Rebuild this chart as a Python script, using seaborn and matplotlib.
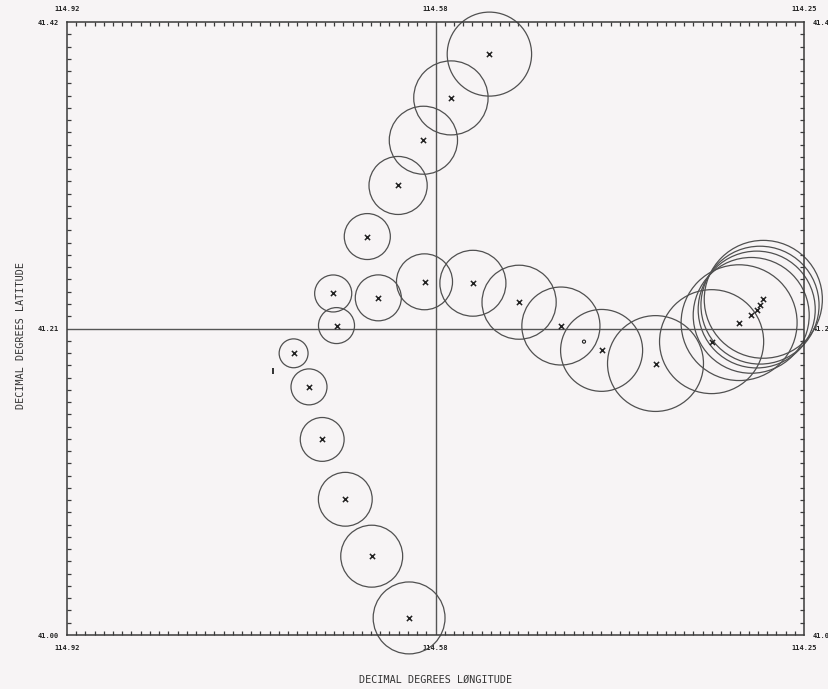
import numpy as np
import pandas as pd
import matplotlib
matplotlib.use("Agg")
import matplotlib.pyplot as plt
from matplotlib.patches import Ellipse
from matplotlib.ticker import FixedLocator
import seaborn as sns

# Epicentre track: position (decimal degrees) and location uncertainty radius (km)
lons = [114.609, 114.643, 114.667, 114.688, 114.700, 114.714, 114.733,
        114.675, 114.678, 114.647, 114.619, 114.596, 114.571, 114.536,
        114.637, 114.595, 114.551, 114.509, 114.471, 114.434, 114.450,
        114.385, 114.334, 114.309, 114.298, 114.293, 114.290, 114.287]
lats = [41.0117, 41.054, 41.093, 41.134, 41.170, 41.193, 41.181,
        41.212, 41.234, 41.273, 41.308, 41.339, 41.368, 41.398,
        41.231, 41.242, 41.241, 41.228, 41.2117, 41.195, 41.201,
        41.186, 41.201, 41.214, 41.219, 41.223, 41.226, 41.230]
radius_km = [2.74, 2.36, 2.05, 1.67, 1.37, 1.10, 0.0,
             1.37, 1.41, 1.75, 2.21, 2.59, 2.82, 3.20,
             1.75, 2.13, 2.51, 2.82, 2.97, 3.12, 0.0,
             3.65, 3.96, 4.41, 4.41, 4.45, 4.49, 4.49]
symbols = ["x", "x", "x", "x", "x", "x", "I",
           "x", "x", "x", "x", "x", "x", "x",
           "x", "x", "x", "x", "x", "x", "o",
           "x", "x", "x", "x", "x", "x", "x"]

lon_west, lon_east = 114.92, 114.25
lat_south, lat_north = 41.00, 41.42
lon_ticks = [114.92, 114.585, 114.25]
lon_labels = ["114.92", "114.58", "114.25"]
lat_ticks = [41.00, 41.21, 41.42]
lat_labels = ["41.00", "41.21", "41.42"]

df = pd.DataFrame({"lon": lons, "lat": lats, "radius": radius_km, "symbol": symbols})

bg = "#f7f4f5"
ink = "#3a3a3a"

sns.set_theme(style="white")
plt.rcParams["font.family"] = ["DejaVu Sans Mono", "DejaVu Sans"]

fig = plt.figure(figsize=(8.29, 6.89), dpi=100, facecolor=bg)
ax = fig.add_axes([67 / 829, 1 - 635 / 689, 737 / 829, 613 / 689])
ax.set_facecolor(bg)

ax.set_xlim(lon_west, lon_east)
ax.set_ylim(lat_south, lat_north)

# crosshair through the map centre
ax.axvline(lon_ticks[1], color="#555555", lw=1.0, zorder=1)
ax.axhline(lat_ticks[1], color="#555555", lw=1.0, zorder=1)

# uncertainty circles (km converted to degrees at each latitude)
km_per_deg = 111.2
for _, row in df.iterrows():
    if row["radius"] <= 0:
        continue
    h = 2 * row["radius"] / km_per_deg
    w = h / np.cos(np.radians(row["lat"]))
    ax.add_patch(Ellipse((row["lon"], row["lat"]), w, h, fill=False,
                         edgecolor="#505050", lw=0.9, clip_on=False, zorder=2))

sns.scatterplot(data=df[df.symbol == "x"], x="lon", y="lat", marker="x",
                s=14, color="#222222", linewidth=1.1, ax=ax, zorder=3, clip_on=False)
sns.scatterplot(data=df[df.symbol == "I"], x="lon", y="lat", marker="|",
                s=16, color="#222222", linewidth=1.3, ax=ax, zorder=3)
sns.scatterplot(data=df[df.symbol == "o"], x="lon", y="lat", marker="o",
                s=5, facecolor="none", edgecolor="#222222", linewidth=0.8, ax=ax, zorder=3)

ax.set_xlim(lon_west, lon_east)
ax.set_ylim(lat_south, lat_north)

for s in ax.spines.values():
    s.set_visible(True)
    s.set_color(ink)
    s.set_linewidth(1.1)

ax.set_xticks(lon_ticks)
ax.set_xticklabels(lon_labels)
ax.set_yticks(lat_ticks)
ax.set_yticklabels(lat_labels)
ax.xaxis.set_minor_locator(FixedLocator(np.linspace(lon_west, lon_east, 81)))
ax.yaxis.set_minor_locator(FixedLocator(np.linspace(lat_south, lat_north, 51)))

ax.tick_params(which="both", direction="in", top=True, bottom=True, left=True, right=True,
               labeltop=True, labelbottom=True, labelleft=True, labelright=True,
               color=ink, width=0.9)
ax.tick_params(which="major", length=0)
ax.tick_params(which="minor", length=3.2)
ax.tick_params(axis="x", which="major", pad=7, labelsize=5, labelcolor="#222222")
ax.tick_params(axis="y", which="major", pad=6, labelsize=5, labelcolor="#222222")
for lab in ax.get_xticklabels() + ax.get_yticklabels():
    lab.set_fontweight("bold")

ax.set_xlabel("DECIMAL DEGREES LØNGITUDE", fontsize=7.3, color="#333333", labelpad=17)
ax.set_ylabel("DECIMAL DEGREES LATITUDE", fontsize=7.3, color="#333333", labelpad=8, y=0.488)
ax.grid(False)

fig.savefig("out.png", dpi=100, facecolor=bg)
